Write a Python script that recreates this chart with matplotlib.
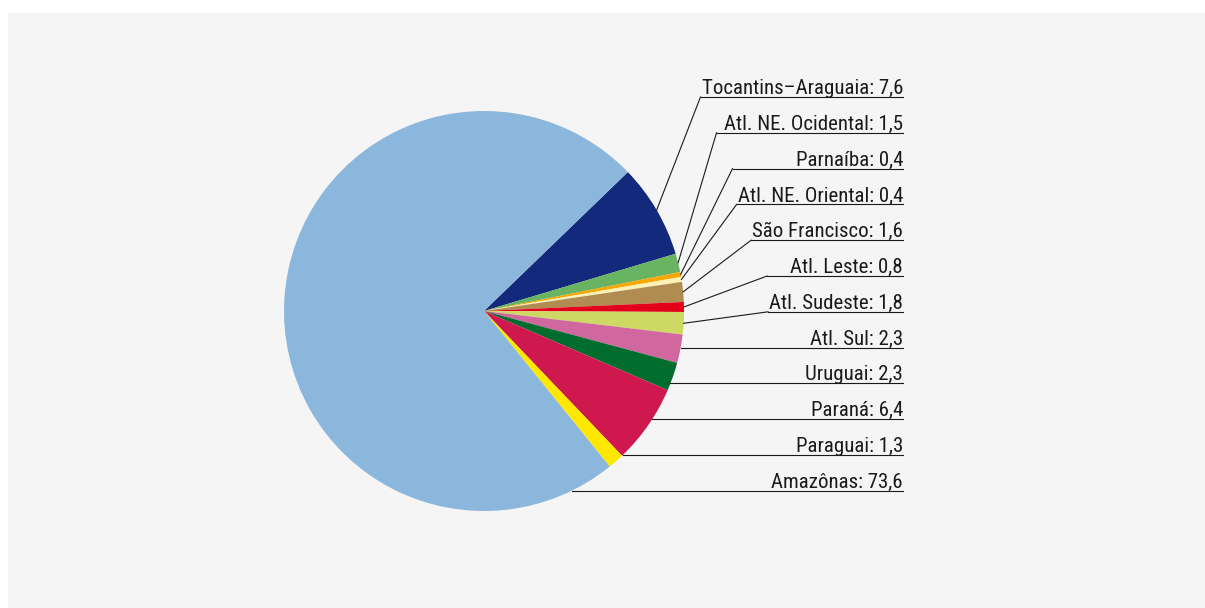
import numpy as np
import matplotlib
matplotlib.use("Agg")
from matplotlib import pyplot as plt
from matplotlib.patches import Rectangle

plt.rcParams['font.family'] = ['Roboto Condensed', 'Liberation Sans Narrow', 'Roboto', 'DejaVu Sans']

# dados (ordem no sentido horário a partir do topo direito)
regioes = ['Tocantins–Araguaia', 'Atl. NE. Ocidental', 'Parnaíba', 'Atl. NE. Oriental',
           'São Francisco', 'Atl. Leste', 'Atl. Sudeste', 'Atl. Sul', 'Uruguai',
           'Paraná', 'Paraguai', 'Amazônas']
valores = [7.6, 1.5, 0.4, 0.4, 1.6, 0.8, 1.8, 2.3, 2.3, 6.4, 1.3, 73.6]
cores = ['#13297b', '#69b463', '#f6a800', '#fdf1b4', '#b08b52', '#e2001a',
         '#cdd962', '#d1679f', '#006d2f', '#cf184e', '#ffe800', '#8cb7dd']

W, H = 1205, 608
fig = plt.figure(figsize=(W / 100, H / 100), dpi=100)
fig.patch.set_facecolor('white')
ax = fig.add_axes([0, 0, 1, 1])
ax.add_patch(Rectangle((8, 0), W - 8, H - 13, facecolor='#f5f5f5', edgecolor='none', zorder=0))

cx, cy, r = 484, H - 311, 200
start = 44.0
wedges, _ = ax.pie(valores, colors=cores, startangle=start, counterclock=False,
                   center=(cx, cy), radius=r, frame=True,
                   wedgeprops=dict(linewidth=0))
ax.set_xlim(0, W)
ax.set_ylim(0, H)
ax.set_aspect('equal')
ax.axis('off')

fig.canvas.draw()
renderer = fig.canvas.get_renderer()

rotulos = [n + ': ' + f"{v:.1f}".replace('.', ',') for n, v in zip(regioes, valores)]

# tamanho da fonte ajustado para a largura do rótulo mais longo (~201 px)
tmp = ax.text(0, 0, rotulos[0], fontsize=10)
fs = 10 * 201 / tmp.get_window_extent(renderer).width
tmp.remove()

x_right = 903
y0 = H - 97
dy = 35.8
join_prev = None
for i, (rotulo, w) in enumerate(zip(rotulos, wedges)):
    yl = y0 - dy * i
    t = ax.text(x_right, yl + 3, rotulo, ha='right', va='baseline',
                fontsize=fs, color='#1a1a1a')
    bb = t.get_window_extent(renderer)
    x_left = bb.x0 - 1
    if join_prev is not None:
        x_left = min(x_left, join_prev + 16)
    join_prev = x_left
    ang = np.deg2rad((w.theta1 + w.theta2) / 2)
    ax_, ay_ = cx + r * np.cos(ang), cy + r * np.sin(ang)
    if np.cos(ang) < 0 or abs(ay_ - yl) < 8:
        # ponto da borda à mesma altura da linha
        a2 = np.arcsin(np.clip((yl - cy) / r, -1, 1))
        ax_ = cx + r * np.cos(a2)
        ax.plot([ax_, x_right], [yl, yl], color='#1a1a1a', lw=0.8)
    else:
        ax.plot([ax_, x_left], [ay_, yl], color='#1a1a1a', lw=0.8)
        ax.plot([x_left, x_right], [yl, yl], color='#1a1a1a', lw=0.8)

fig.savefig('out.png', dpi=100, facecolor='white')
